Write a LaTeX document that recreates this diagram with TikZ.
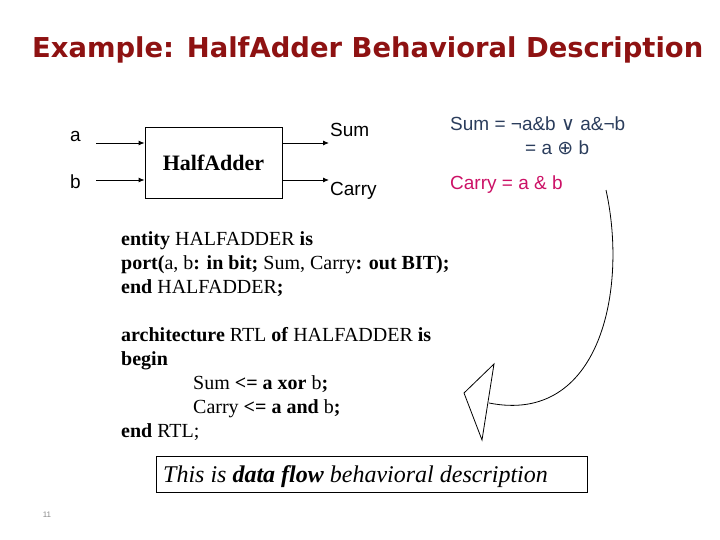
\documentclass[tikz,border=0pt]{standalone}
\usepackage{fontspec}
\setmainfont{Liberation Serif}
\newfontfamily\sansf{Liberation Sans}
\newfontfamily\titlef{DejaVu Sans}
\usetikzlibrary{arrows.meta}
\definecolor{titlered}{HTML}{8E1212}
\definecolor{navy}{HTML}{2B3D5C}
\definecolor{carrymag}{HTML}{CC1166}
\definecolor{pagegray}{HTML}{8A8A8A}
\tikzset{
  sig/.style={line width=0.9pt,-{Latex[length=6pt,width=5pt]}},
  lbl/.style={font=\sansf\fontsize{19}{21}\selectfont,inner sep=0pt},
  code/.style={font=\fontsize{20}{24}\selectfont,anchor=base west,inner sep=0pt},
}
\begin{document}
\begin{tikzpicture}[x=1pt,y=-1pt]
\useasboundingbox (0,0) rectangle (720,540);
% title
\node[anchor=base west,inner sep=0pt,text=titlered] (title) at (32,58)
  {\resizebox{671pt}{!}{\titlef\bfseries Example: HalfAdder Behavioral Description}};
% block
\node[draw,line width=0.8pt,minimum width=137pt,minimum height=71pt,inner sep=0pt,
  font=\fontsize{22}{24}\selectfont\bfseries] (ha) at (213.5,162.5) {HalfAdder};
\coordinate (ain) at (96,143);
\coordinate (bin) at (96,180);
\coordinate (sout) at (329,143);
\coordinate (cout) at (329,180);
\draw[sig] (ain) -- (ain -| ha.west);
\draw[sig] (bin) -- (bin -| ha.west);
\draw[sig] (sout -| ha.east) -- (sout);
\draw[sig] (cout -| ha.east) -- (cout);
\node[lbl,anchor=base west] (la) at (70,142) {a};
\node[lbl,anchor=base west] (lb) at (70,189) {b};
\node[lbl,anchor=base west] (ls) at (330,137) {Sum};
\node[lbl,anchor=base west] (lc) at (330,196) {Carry};
% formulas
\node[lbl,anchor=base west,text=navy] (f1) at (450,131) {Sum = ¬a\&b {\titlef ∨} a\&¬b};
\node[lbl,anchor=base west,text=navy] (f2) at (525,155) {= a {\titlef ⊕} b};
\node[lbl,anchor=base west,text=carrymag] (f3) at (450,190) {Carry = a \& b};
% code
\node[code] (c1) at (121,245) {\textbf{entity} HALFADDER \textbf{is}};
\node[code] (c2) at (121,269) {\textbf{port(}a, b\textbf{: in bit;} Sum, Carry\textbf{: out BIT);}};
\node[code] (c3) at (121,293) {\textbf{end} HALFADDER\textbf{;}};
\node[code] (c4) at (121,341) {\textbf{architecture} RTL \textbf{of} HALFADDER \textbf{is}};
\node[code] (c5) at (121,365) {\textbf{begin}};
\node[code] (c6) at (193,389) {Sum \textbf{<= a xor} b\textbf{;}};
\node[code] (c7) at (193,413) {Carry \textbf{<= a and} b\textbf{;}};
\node[code] (c8) at (121,437) {\textbf{end} RTL;};
% curved arrow
\coordinate (cs) at (606,190);
\coordinate (ce) at (489,403);
\draw[line width=0.8pt] (cs) .. controls (628,290) and (600,425) .. (ce);
\draw[line width=0.8pt,line join=miter] (494,364) -- (464,393) -- (482,440) -- cycle;
% bottom box
\draw[line width=0.8pt] (156,456) rectangle (587,492);
\node[anchor=base west,inner sep=0pt,font=\fontsize{24}{26}\selectfont\itshape] (note) at (163,482)
  {This is \textbf{data flow} behavioral description};
% page number
\node[inner sep=0pt,text=pagegray,font=\sansf\fontsize{8}{9}\selectfont] (pg) at (47,515) {11};
\end{tikzpicture}
\end{document}
